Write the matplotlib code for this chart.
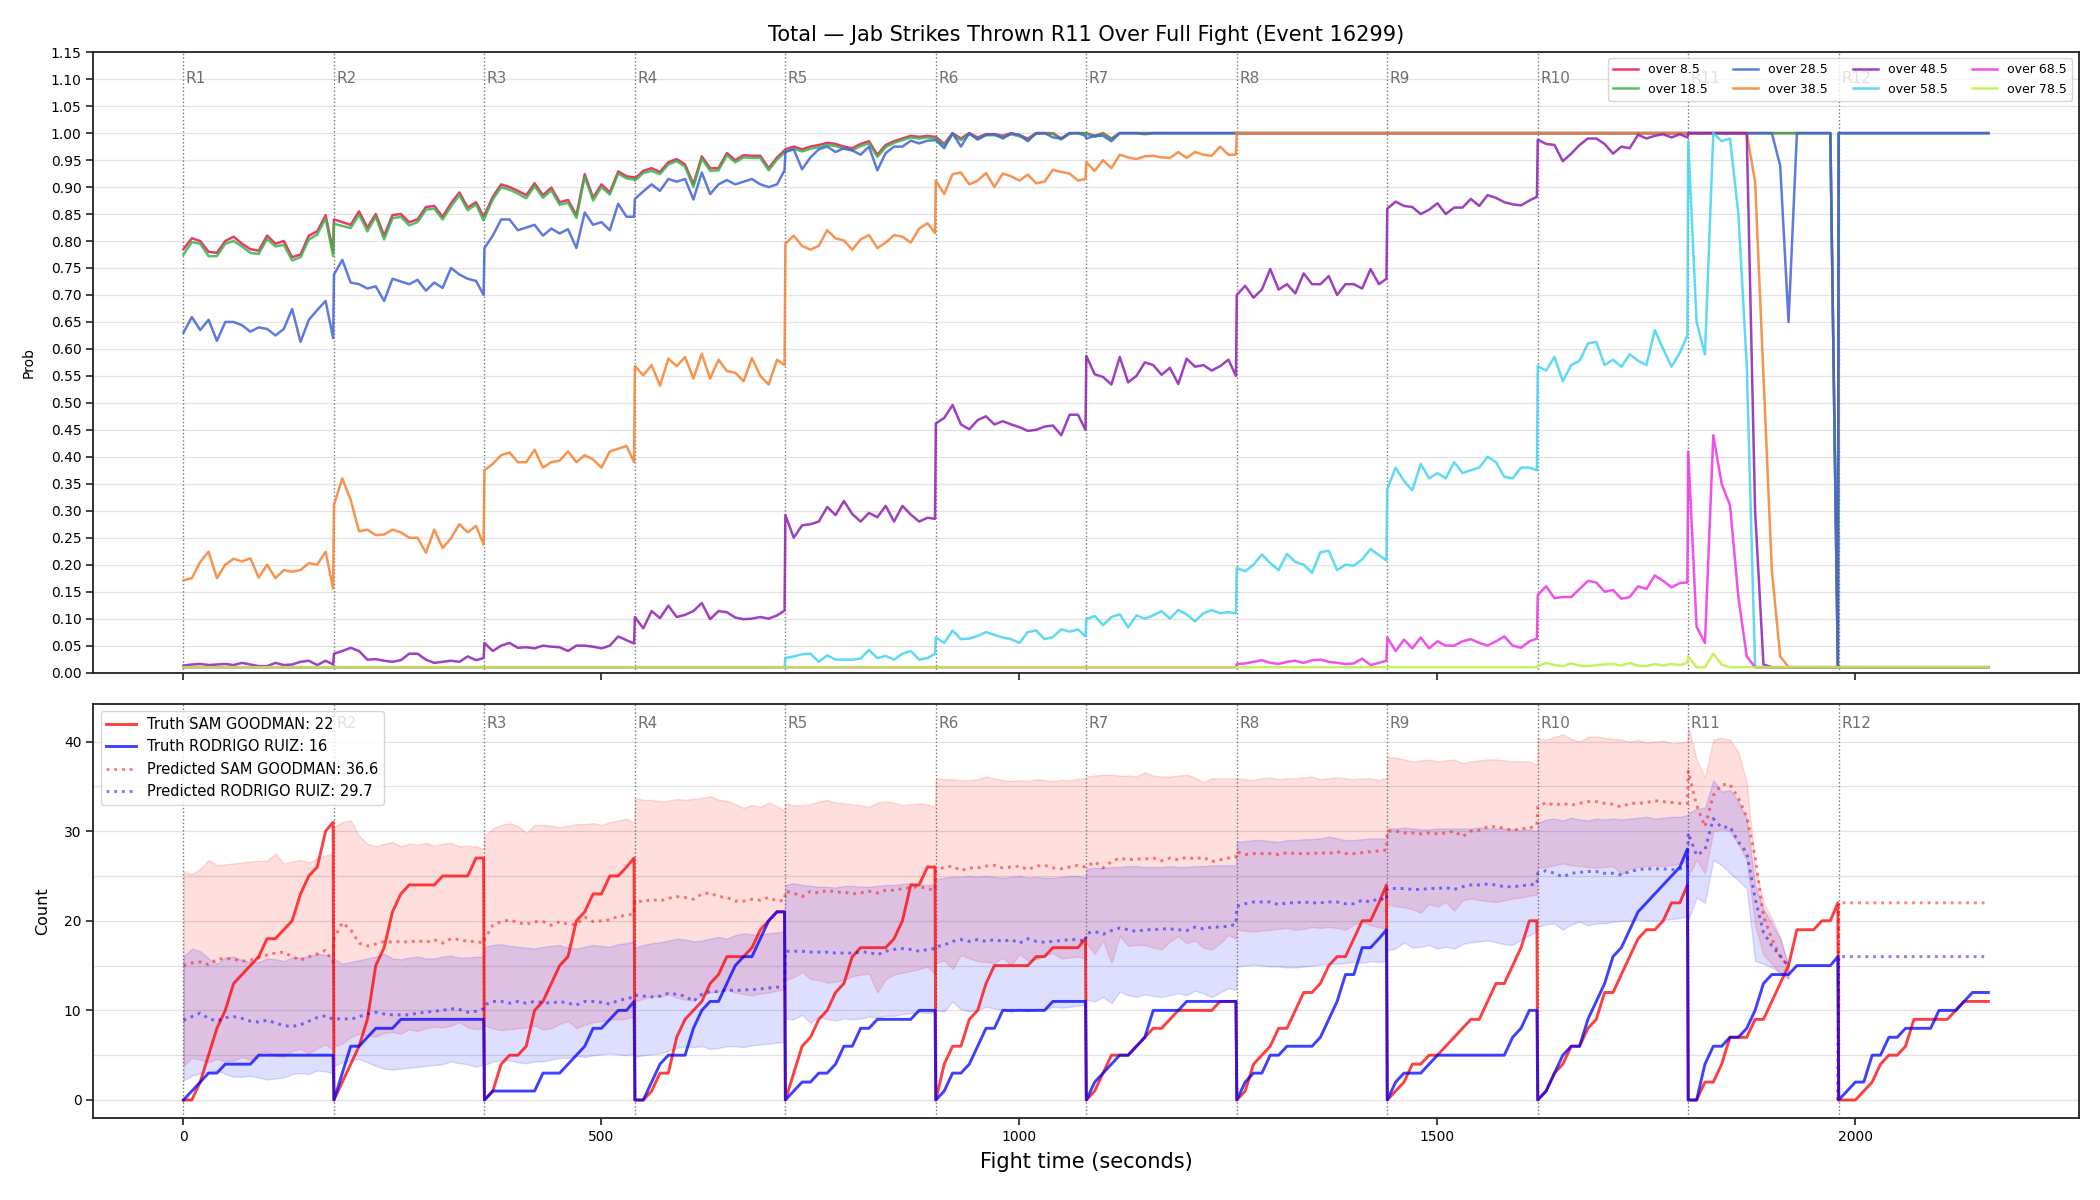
import numpy as np
import matplotlib
matplotlib.use("Agg")
import matplotlib.pyplot as plt
import matplotlib.transforms as mtransforms
from matplotlib.ticker import MultipleLocator, FormatStrFormatter

nan = float("nan")

# ---------------- data ----------------
ROUND_LEN = 180
N_ROUNDS = 12
SAMPLE_OFFSETS = [0, 10, 20, 30, 40, 50, 60, 70, 80, 90, 100, 110, 120, 130, 140, 150, 160, 170, 179]
TIME = np.concatenate([r * ROUND_LEN + np.array(SAMPLE_OFFSETS) for r in range(N_ROUNDS)])
ROUND_STARTS = [r * ROUND_LEN for r in range(N_ROUNDS)]
ROUND_LABELS = ["R%d" % (r + 1) for r in range(N_ROUNDS)]

TITLE = "Total \u2014 Jab Strikes Thrown R11 Over Full Fight (Event 16299)"
LINE_LABELS = ["over 8.5", "over 18.5", "over 28.5", "over 38.5",
               "over 48.5", "over 58.5", "over 68.5", "over 78.5"]

P085 = [
    0.785, 0.805, 0.80, 0.78, 0.778, 0.80, 0.808, 0.795, 0.785, 0.782, 0.81, 0.795, 0.80, 0.77, 0.775, 0.81, 0.818, 0.848, 0.78,
    0.84, 0.835, 0.83, 0.855, 0.825, 0.85, 0.81, 0.848, 0.85, 0.835, 0.84, 0.863, 0.865, 0.845, 0.87, 0.89, 0.862, 0.872, 0.845,
    0.848, 0.882, 0.905, 0.90, 0.893, 0.885, 0.907, 0.885, 0.899, 0.872, 0.876, 0.848, 0.924, 0.88, 0.905, 0.89, 0.929, 0.92, 0.918,
    0.916, 0.93, 0.935, 0.928, 0.946, 0.952, 0.942, 0.905, 0.957, 0.935, 0.935, 0.963, 0.95, 0.959, 0.958, 0.958, 0.935, 0.955, 0.968,
    0.97, 0.975, 0.97, 0.975, 0.978, 0.982, 0.98, 0.975, 0.972, 0.98, 0.985, 0.96, 0.978, 0.985, 0.99, 0.995, 0.993, 0.995, 0.993,
    0.993, 0.98, 1.0, 0.99, 1.0, 0.992, 0.998, 0.998, 0.995, 1.0, 0.996, 0.99, 1.0, 1.0, 1.0, 0.99, 1.0, 1.0, 1.0,
    1.0, 0.995, 1.0, 0.99, 1.0, 1.0, 1.0, 1.0, 1.0, 1.0, 1.0, 1.0, 1.0, 1.0, 1.0, 1.0, 1.0, 1.0, 1.0,
    1.0, 1.0, 1.0, 1.0, 1.0, 1.0, 1.0, 1.0, 1.0, 1.0, 1.0, 1.0, 1.0, 1.0, 1.0, 1.0, 1.0, 1.0, 1.0,
    1.0, 1.0, 1.0, 1.0, 1.0, 1.0, 1.0, 1.0, 1.0, 1.0, 1.0, 1.0, 1.0, 1.0, 1.0, 1.0, 1.0, 1.0, 1.0,
    1.0, 1.0, 1.0, 1.0, 1.0, 1.0, 1.0, 1.0, 1.0, 1.0, 1.0, 1.0, 1.0, 1.0, 1.0, 1.0, 1.0, 1.0, 1.0,
    1.0, 1.0, 1.0, 1.0, 1.0, 1.0, 1.0, 1.0, 1.0, 1.0, 1.0, 1.0, 1.0, 1.0, 1.0, 1.0, 1.0, 1.0, 0.01,
    1.0, 1.0, 1.0, 1.0, 1.0, 1.0, 1.0, 1.0, 1.0, 1.0, 1.0, 1.0, 1.0, 1.0, 1.0, 1.0, 1.0, 1.0, 1.0,
]

P185 = [
    0.775, 0.798, 0.795, 0.772, 0.772, 0.795, 0.80, 0.79, 0.778, 0.776, 0.804, 0.79, 0.793, 0.764, 0.77, 0.803, 0.812, 0.842, 0.772,
    0.832, 0.828, 0.824, 0.849, 0.818, 0.845, 0.803, 0.842, 0.845, 0.829, 0.835, 0.858, 0.86, 0.84, 0.864, 0.885, 0.857, 0.868, 0.838,
    0.842, 0.877, 0.90, 0.895, 0.888, 0.879, 0.902, 0.88, 0.894, 0.867, 0.871, 0.843, 0.919, 0.875, 0.90, 0.886, 0.925, 0.916, 0.914,
    0.912, 0.926, 0.93, 0.924, 0.942, 0.948, 0.938, 0.90, 0.953, 0.93, 0.931, 0.959, 0.946, 0.955, 0.954, 0.954, 0.931, 0.951, 0.964,
    0.966, 0.971, 0.966, 0.971, 0.974, 0.978, 0.976, 0.971, 0.968, 0.976, 0.981, 0.956, 0.974, 0.982, 0.987, 0.992, 0.99, 0.992, 0.99,
    0.99, 0.977, 0.998, 0.987, 0.998, 0.99, 0.996, 0.996, 0.993, 0.998, 0.994, 0.988, 0.999, 0.999, 0.999, 0.988, 0.999, 1.0, 1.0,
    0.999, 0.993, 0.999, 0.989, 1.0, 1.0, 1.0, 1.0, 1.0, 1.0, 1.0, 1.0, 1.0, 1.0, 1.0, 1.0, 1.0, 1.0, 1.0,
    1.0, 1.0, 1.0, 1.0, 1.0, 1.0, 1.0, 1.0, 1.0, 1.0, 1.0, 1.0, 1.0, 1.0, 1.0, 1.0, 1.0, 1.0, 1.0,
    1.0, 1.0, 1.0, 1.0, 1.0, 1.0, 1.0, 1.0, 1.0, 1.0, 1.0, 1.0, 1.0, 1.0, 1.0, 1.0, 1.0, 1.0, 1.0,
    1.0, 1.0, 1.0, 1.0, 1.0, 1.0, 1.0, 1.0, 1.0, 1.0, 1.0, 1.0, 1.0, 1.0, 1.0, 1.0, 1.0, 1.0, 1.0,
    1.0, 1.0, 1.0, 1.0, 1.0, 1.0, 1.0, 1.0, 1.0, 1.0, 1.0, 1.0, 1.0, 1.0, 1.0, 1.0, 1.0, 1.0, 0.01,
    1.0, 1.0, 1.0, 1.0, 1.0, 1.0, 1.0, 1.0, 1.0, 1.0, 1.0, 1.0, 1.0, 1.0, 1.0, 1.0, 1.0, 1.0, 1.0,
]

P285 = [
    0.63, 0.659, 0.635, 0.654, 0.615, 0.65, 0.65, 0.644, 0.632, 0.64, 0.637, 0.625, 0.637, 0.674, 0.613, 0.654, 0.672, 0.689, 0.62,
    0.738, 0.765, 0.723, 0.72, 0.712, 0.716, 0.689, 0.73, 0.725, 0.72, 0.728, 0.708, 0.723, 0.713, 0.75, 0.738, 0.73, 0.726, 0.70,
    0.787, 0.81, 0.84, 0.84, 0.82, 0.825, 0.83, 0.81, 0.823, 0.814, 0.822, 0.787, 0.853, 0.83, 0.835, 0.82, 0.869, 0.845, 0.845,
    0.878, 0.892, 0.905, 0.893, 0.915, 0.91, 0.915, 0.877, 0.927, 0.887, 0.905, 0.913, 0.905, 0.91, 0.915, 0.905, 0.90, 0.905, 0.931,
    0.965, 0.97, 0.933, 0.955, 0.97, 0.975, 0.965, 0.972, 0.968, 0.96, 0.975, 0.931, 0.963, 0.975, 0.975, 0.986, 0.981, 0.986, 0.987,
    0.987, 0.972, 1.0, 0.975, 1.0, 0.988, 0.997, 0.998, 0.99, 0.999, 0.997, 0.985, 1.0, 1.0, 0.992, 0.99, 1.0, 1.0, 0.995,
    0.99, 0.995, 0.995, 0.985, 1.0, 1.0, 1.0, 0.998, 1.0, 1.0, 1.0, 1.0, 1.0, 1.0, 1.0, 1.0, 1.0, 1.0, 1.0,
    1.0, 1.0, 1.0, 1.0, 1.0, 1.0, 1.0, 1.0, 1.0, 1.0, 1.0, 1.0, 1.0, 1.0, 1.0, 1.0, 1.0, 1.0, 1.0,
    1.0, 1.0, 1.0, 1.0, 1.0, 1.0, 1.0, 1.0, 1.0, 1.0, 1.0, 1.0, 1.0, 1.0, 1.0, 1.0, 1.0, 1.0, 1.0,
    1.0, 1.0, 1.0, 1.0, 1.0, 1.0, 1.0, 1.0, 1.0, 1.0, 1.0, 1.0, 1.0, 1.0, 1.0, 1.0, 1.0, 1.0, 1.0,
    1.0, 1.0, 1.0, 1.0, 1.0, 1.0, 1.0, 1.0, 1.0, 1.0, 1.0, 0.94, 0.65, 1.0, 1.0, 1.0, 1.0, 1.0, 0.01,
    1.0, 1.0, 1.0, 1.0, 1.0, 1.0, 1.0, 1.0, 1.0, 1.0, 1.0, 1.0, 1.0, 1.0, 1.0, 1.0, 1.0, 1.0, 1.0,
]

P385 = [
    0.171, 0.175, 0.205, 0.224, 0.175, 0.20, 0.211, 0.206, 0.212, 0.176, 0.20, 0.175, 0.19, 0.187, 0.19, 0.203, 0.20, 0.224, 0.156,
    0.311, 0.36, 0.32, 0.262, 0.265, 0.255, 0.256, 0.265, 0.26, 0.25, 0.25, 0.222, 0.265, 0.231, 0.249, 0.275, 0.26, 0.272, 0.237,
    0.375, 0.387, 0.403, 0.408, 0.39, 0.39, 0.413, 0.38, 0.39, 0.393, 0.41, 0.39, 0.403, 0.395, 0.38, 0.41, 0.415, 0.42, 0.39,
    0.568, 0.551, 0.57, 0.532, 0.582, 0.568, 0.585, 0.545, 0.591, 0.545, 0.58, 0.559, 0.556, 0.54, 0.583, 0.55, 0.534, 0.58, 0.57,
    0.795, 0.81, 0.791, 0.784, 0.791, 0.82, 0.805, 0.801, 0.784, 0.803, 0.811, 0.787, 0.797, 0.811, 0.808, 0.797, 0.823, 0.833, 0.815,
    0.912, 0.887, 0.924, 0.927, 0.905, 0.912, 0.926, 0.90, 0.925, 0.92, 0.912, 0.923, 0.907, 0.91, 0.932, 0.928, 0.925, 0.912, 0.915,
    0.946, 0.93, 0.95, 0.935, 0.96, 0.955, 0.952, 0.957, 0.958, 0.955, 0.954, 0.965, 0.954, 0.965, 0.96, 0.958, 0.975, 0.96, 0.96,
    1.0, 1.0, 1.0, 1.0, 1.0, 1.0, 1.0, 1.0, 1.0, 1.0, 1.0, 1.0, 1.0, 1.0, 1.0, 1.0, 1.0, 1.0, 1.0,
    1.0, 1.0, 1.0, 1.0, 1.0, 1.0, 1.0, 1.0, 1.0, 1.0, 1.0, 1.0, 1.0, 1.0, 1.0, 1.0, 1.0, 1.0, 1.0,
    1.0, 1.0, 1.0, 1.0, 1.0, 1.0, 1.0, 1.0, 1.0, 1.0, 1.0, 1.0, 1.0, 1.0, 1.0, 1.0, 1.0, 1.0, 1.0,
    1.0, 1.0, 1.0, 1.0, 1.0, 1.0, 1.0, 1.0, 0.91, 0.55, 0.19, 0.03, 0.01, 0.01, 0.01, 0.01, 0.01, 0.01, 0.01,
    0.01, 0.01, 0.01, 0.01, 0.01, 0.01, 0.01, 0.01, 0.01, 0.01, 0.01, 0.01, 0.01, 0.01, 0.01, 0.01, 0.01, 0.01, 0.01,
]

P485 = [
    0.013, 0.015, 0.016, 0.014, 0.015, 0.016, 0.014, 0.018, 0.015, 0.012, 0.012, 0.018, 0.014, 0.015, 0.02, 0.022, 0.014, 0.022, 0.015,
    0.035, 0.04, 0.046, 0.04, 0.024, 0.025, 0.022, 0.02, 0.023, 0.035, 0.035, 0.024, 0.018, 0.02, 0.022, 0.02, 0.03, 0.023, 0.027,
    0.055, 0.04, 0.05, 0.055, 0.046, 0.047, 0.045, 0.05, 0.048, 0.047, 0.04, 0.05, 0.05, 0.048, 0.045, 0.05, 0.067, 0.06, 0.054,
    0.103, 0.082, 0.114, 0.101, 0.124, 0.103, 0.107, 0.114, 0.129, 0.099, 0.114, 0.112, 0.102, 0.099, 0.10, 0.103, 0.10, 0.106, 0.115,
    0.292, 0.25, 0.273, 0.275, 0.28, 0.307, 0.292, 0.318, 0.294, 0.28, 0.296, 0.288, 0.309, 0.28, 0.309, 0.293, 0.28, 0.287, 0.285,
    0.462, 0.472, 0.496, 0.46, 0.451, 0.468, 0.475, 0.46, 0.466, 0.46, 0.455, 0.448, 0.45, 0.456, 0.458, 0.44, 0.478, 0.478, 0.45,
    0.587, 0.553, 0.548, 0.534, 0.585, 0.538, 0.55, 0.575, 0.57, 0.552, 0.565, 0.535, 0.582, 0.567, 0.57, 0.56, 0.568, 0.58, 0.55,
    0.70, 0.717, 0.695, 0.71, 0.748, 0.71, 0.72, 0.703, 0.74, 0.72, 0.72, 0.735, 0.70, 0.72, 0.72, 0.712, 0.748, 0.72, 0.73,
    0.86, 0.873, 0.865, 0.863, 0.85, 0.858, 0.87, 0.85, 0.862, 0.862, 0.878, 0.865, 0.885, 0.88, 0.872, 0.868, 0.866, 0.875, 0.882,
    0.988, 0.98, 0.978, 0.948, 0.962, 0.978, 0.99, 0.99, 0.98, 0.962, 0.975, 0.972, 0.997, 0.99, 0.995, 0.998, 0.992, 0.998, 0.992,
    1.0, 1.0, 1.0, 1.0, 1.0, 1.0, 1.0, 1.0, 0.3, 0.015, 0.01, 0.01, 0.01, 0.01, 0.01, 0.01, 0.01, 0.01, 0.01,
    0.01, 0.01, 0.01, 0.01, 0.01, 0.01, 0.01, 0.01, 0.01, 0.01, 0.01, 0.01, 0.01, 0.01, 0.01, 0.01, 0.01, 0.01, 0.01,
]

P585 = [
    0.01, 0.01, 0.01, 0.01, 0.01, 0.01, 0.01, 0.01, 0.01, 0.01, 0.01, 0.01, 0.01, 0.01, 0.01, 0.01, 0.01, 0.01, 0.01,
    0.01, 0.01, 0.01, 0.01, 0.01, 0.01, 0.01, 0.01, 0.01, 0.01, 0.01, 0.01, 0.01, 0.01, 0.01, 0.01, 0.01, 0.01, 0.01,
    0.01, 0.01, 0.01, 0.01, 0.01, 0.01, 0.01, 0.01, 0.01, 0.01, 0.01, 0.01, 0.01, 0.01, 0.01, 0.01, 0.01, 0.01, 0.01,
    0.01, 0.01, 0.01, 0.01, 0.01, 0.01, 0.01, 0.01, 0.01, 0.01, 0.01, 0.01, 0.01, 0.01, 0.01, 0.01, 0.01, 0.01, 0.01,
    0.027, 0.03, 0.034, 0.035, 0.02, 0.032, 0.024, 0.024, 0.024, 0.026, 0.042, 0.027, 0.031, 0.024, 0.035, 0.04, 0.024, 0.027, 0.035,
    0.065, 0.055, 0.078, 0.062, 0.063, 0.068, 0.075, 0.07, 0.065, 0.062, 0.055, 0.075, 0.078, 0.062, 0.066, 0.08, 0.076, 0.08, 0.067,
    0.099, 0.105, 0.088, 0.103, 0.108, 0.084, 0.106, 0.10, 0.106, 0.114, 0.10, 0.116, 0.108, 0.095, 0.11, 0.116, 0.11, 0.112, 0.11,
    0.194, 0.188, 0.20, 0.219, 0.203, 0.19, 0.22, 0.205, 0.20, 0.185, 0.223, 0.226, 0.19, 0.20, 0.198, 0.21, 0.229, 0.218, 0.208,
    0.34, 0.38, 0.355, 0.338, 0.387, 0.36, 0.37, 0.36, 0.39, 0.37, 0.375, 0.38, 0.40, 0.39, 0.363, 0.36, 0.38, 0.38, 0.375,
    0.568, 0.56, 0.585, 0.54, 0.57, 0.578, 0.61, 0.613, 0.57, 0.58, 0.567, 0.59, 0.578, 0.57, 0.635, 0.60, 0.567, 0.593, 0.625,
    0.985, 0.65, 0.59, 1.0, 0.985, 0.99, 0.85, 0.57, 0.01, 0.01, 0.01, 0.01, 0.01, 0.01, 0.01, 0.01, 0.01, 0.01, 0.01,
    0.01, 0.01, 0.01, 0.01, 0.01, 0.01, 0.01, 0.01, 0.01, 0.01, 0.01, 0.01, 0.01, 0.01, 0.01, 0.01, 0.01, 0.01, 0.01,
]

P685 = [
    0.01, 0.01, 0.01, 0.01, 0.01, 0.01, 0.01, 0.01, 0.01, 0.01, 0.01, 0.01, 0.01, 0.01, 0.01, 0.01, 0.01, 0.01, 0.01,
    0.01, 0.01, 0.01, 0.01, 0.01, 0.01, 0.01, 0.01, 0.01, 0.01, 0.01, 0.01, 0.01, 0.01, 0.01, 0.01, 0.01, 0.01, 0.01,
    0.01, 0.01, 0.01, 0.01, 0.01, 0.01, 0.01, 0.01, 0.01, 0.01, 0.01, 0.01, 0.01, 0.01, 0.01, 0.01, 0.01, 0.01, 0.01,
    0.01, 0.01, 0.01, 0.01, 0.01, 0.01, 0.01, 0.01, 0.01, 0.01, 0.01, 0.01, 0.01, 0.01, 0.01, 0.01, 0.01, 0.01, 0.01,
    0.01, 0.01, 0.01, 0.01, 0.01, 0.01, 0.01, 0.01, 0.01, 0.01, 0.01, 0.01, 0.01, 0.01, 0.01, 0.01, 0.01, 0.01, 0.01,
    0.01, 0.01, 0.01, 0.01, 0.01, 0.01, 0.01, 0.01, 0.01, 0.01, 0.01, 0.01, 0.01, 0.01, 0.01, 0.01, 0.01, 0.01, 0.01,
    0.01, 0.01, 0.01, 0.01, 0.01, 0.01, 0.01, 0.01, 0.01, 0.01, 0.01, 0.01, 0.01, 0.01, 0.01, 0.01, 0.01, 0.01, 0.01,
    0.016, 0.017, 0.02, 0.023, 0.018, 0.016, 0.02, 0.022, 0.018, 0.023, 0.024, 0.02, 0.018, 0.016, 0.017, 0.026, 0.014, 0.018, 0.022,
    0.065, 0.04, 0.061, 0.045, 0.065, 0.045, 0.058, 0.05, 0.05, 0.058, 0.062, 0.055, 0.05, 0.058, 0.067, 0.05, 0.046, 0.058, 0.063,
    0.144, 0.16, 0.138, 0.14, 0.14, 0.155, 0.17, 0.167, 0.15, 0.153, 0.137, 0.14, 0.16, 0.155, 0.18, 0.17, 0.158, 0.166, 0.167,
    0.41, 0.085, 0.055, 0.44, 0.35, 0.31, 0.14, 0.03, 0.01, 0.01, 0.01, 0.01, 0.01, 0.01, 0.01, 0.01, 0.01, 0.01, 0.01,
    0.01, 0.01, 0.01, 0.01, 0.01, 0.01, 0.01, 0.01, 0.01, 0.01, 0.01, 0.01, 0.01, 0.01, 0.01, 0.01, 0.01, 0.01, 0.01,
]

P785 = [
    0.01, 0.01, 0.01, 0.01, 0.01, 0.01, 0.01, 0.01, 0.01, 0.01, 0.01, 0.01, 0.01, 0.01, 0.01, 0.01, 0.01, 0.01, 0.01,
    0.01, 0.01, 0.01, 0.01, 0.01, 0.01, 0.01, 0.01, 0.01, 0.01, 0.01, 0.01, 0.01, 0.01, 0.01, 0.01, 0.01, 0.01, 0.01,
    0.01, 0.01, 0.01, 0.01, 0.01, 0.01, 0.01, 0.01, 0.01, 0.01, 0.01, 0.01, 0.01, 0.01, 0.01, 0.01, 0.01, 0.01, 0.01,
    0.01, 0.01, 0.01, 0.01, 0.01, 0.01, 0.01, 0.01, 0.01, 0.01, 0.01, 0.01, 0.01, 0.01, 0.01, 0.01, 0.01, 0.01, 0.01,
    0.01, 0.01, 0.01, 0.01, 0.01, 0.01, 0.01, 0.01, 0.01, 0.01, 0.01, 0.01, 0.01, 0.01, 0.01, 0.01, 0.01, 0.01, 0.01,
    0.01, 0.01, 0.01, 0.01, 0.01, 0.01, 0.01, 0.01, 0.01, 0.01, 0.01, 0.01, 0.01, 0.01, 0.01, 0.01, 0.01, 0.01, 0.01,
    0.01, 0.01, 0.01, 0.01, 0.01, 0.01, 0.01, 0.01, 0.01, 0.01, 0.01, 0.01, 0.01, 0.01, 0.01, 0.01, 0.01, 0.01, 0.01,
    0.01, 0.01, 0.01, 0.01, 0.01, 0.01, 0.01, 0.01, 0.01, 0.01, 0.01, 0.01, 0.01, 0.01, 0.01, 0.01, 0.01, 0.01, 0.01,
    0.01, 0.01, 0.01, 0.01, 0.01, 0.01, 0.01, 0.01, 0.01, 0.01, 0.01, 0.01, 0.01, 0.01, 0.01, 0.01, 0.01, 0.01, 0.01,
    0.012, 0.018, 0.014, 0.012, 0.017, 0.013, 0.012, 0.014, 0.015, 0.016, 0.013, 0.018, 0.013, 0.012, 0.016, 0.013, 0.016, 0.014, 0.018,
    0.03, 0.01, 0.01, 0.035, 0.015, 0.01, 0.01, 0.01, 0.01, 0.01, 0.01, 0.01, 0.01, 0.01, 0.01, 0.01, 0.01, 0.01, 0.01,
    0.01, 0.01, 0.01, 0.01, 0.01, 0.01, 0.01, 0.01, 0.01, 0.01, 0.01, 0.01, 0.01, 0.01, 0.01, 0.01, 0.01, 0.01, 0.01,
]

FIGHTER_A = "SAM GOODMAN"
FIGHTER_B = "RODRIGO RUIZ"
TRUTH_TOTAL_A = 22
TRUTH_TOTAL_B = 16
PRED_TOTAL_A = 36.6
PRED_TOTAL_B = 29.7

TRUTH_A = [
    0, 0, 2, 5, 8, 10, 13, 14, 15, 16, 18, 18, 19, 20, 23, 25, 26, 30, 31,
    0, 2, 4, 6, 9, 15, 17, 21, 23, 24, 24, 24, 24, 25, 25, 25, 25, 27, 27,
    0, 1, 4, 5, 5, 6, 10, 11, 13, 15, 16, 20, 21, 23, 23, 25, 25, 26, 27,
    0, 0, 1, 3, 3, 7, 9, 10, 11, 13, 14, 16, 16, 16, 17, 19, 20, 21, 21,
    0, 3, 6, 7, 9, 10, 12, 13, 16, 17, 17, 17, 17, 18, 20, 24, 24, 26, 26,
    0, 4, 6, 6, 9, 10, 13, 15, 15, 15, 15, 15, 16, 16, 17, 17, 17, 17, 18,
    0, 1, 3, 5, 5, 5, 6, 7, 8, 8, 9, 10, 10, 10, 10, 10, 11, 11, 11,
    0, 1, 4, 5, 6, 8, 8, 10, 12, 12, 13, 15, 16, 16, 18, 20, 20, 22, 24,
    0, 1, 2, 4, 4, 5, 5, 6, 7, 8, 9, 9, 11, 13, 13, 15, 17, 20, 20,
    0, 1, 3, 4, 6, 6, 8, 9, 12, 12, 14, 16, 18, 19, 19, 20, 22, 22, 24,
    0, 0, 2, 2, 4, 7, 7, 7, 9, 9, 11, 13, 15, 19, 19, 19, 20, 20, 22,
    0, 0, 0, 1, 2, 4, 5, 5, 6, 9, 9, 9, 9, 9, 10, 11, 11, 11, 11,
]

TRUTH_B = [
    0, 1, 2, 3, 3, 4, 4, 4, 4, 5, 5, 5, 5, 5, 5, 5, 5, 5, 5,
    0, 3, 6, 6, 7, 8, 8, 8, 9, 9, 9, 9, 9, 9, 9, 9, 9, 9, 9,
    0, 1, 1, 1, 1, 1, 1, 3, 3, 3, 4, 5, 6, 8, 8, 9, 10, 10, 11,
    0, 0, 2, 4, 5, 5, 5, 8, 10, 11, 11, 13, 15, 16, 16, 18, 20, 21, 21,
    0, 1, 2, 2, 3, 3, 4, 6, 6, 8, 8, 9, 9, 9, 9, 9, 10, 10, 10,
    0, 1, 3, 3, 4, 6, 8, 8, 10, 10, 10, 10, 10, 10, 11, 11, 11, 11, 11,
    0, 2, 3, 4, 5, 5, 6, 7, 10, 10, 10, 10, 11, 11, 11, 11, 11, 11, 11,
    0, 2, 3, 3, 5, 5, 6, 6, 6, 6, 7, 9, 11, 14, 14, 17, 17, 18, 19,
    0, 2, 3, 3, 3, 4, 5, 5, 5, 5, 5, 5, 5, 5, 5, 7, 8, 10, 10,
    0, 1, 3, 5, 6, 6, 9, 11, 13, 16, 17, 19, 21, 22, 23, 24, 25, 26, 28,
    0, 0, 4, 6, 6, 7, 7, 8, 10, 13, 14, 14, 14, 15, 15, 15, 15, 15, 16,
    0, 1, 2, 2, 5, 5, 7, 7, 8, 8, 8, 8, 10, 10, 10, 11, 12, 12, 12,
]

PRED_A = [
    15.0, 15.3, 15.4, 15.1, 15.7, 15.8, 15.7, 15.5, 15.6, 15.9, 16.2, 16.4, 16.5, 16.0, 15.6, 16.0, 16.3, 16.7, 15.4,
    18.0, 19.8, 19.0, 17.5, 17.2, 17.4, 17.7, 17.6, 17.7, 17.6, 17.8, 17.6, 17.9, 17.5, 18.0, 17.9, 17.7, 17.7, 17.5,
    17.9, 19.5, 19.9, 20.1, 19.8, 19.6, 19.9, 19.9, 19.5, 19.9, 19.6, 19.6, 20.4, 19.9, 20.0, 20.1, 20.5, 20.6, 20.8,
    22.3, 22.1, 22.4, 22.2, 22.5, 22.7, 22.6, 22.4, 23.0, 23.1, 22.7, 22.6, 22.2, 22.2, 22.4, 22.3, 22.6, 22.2, 22.3,
    23.3, 23.1, 22.7, 23.3, 23.1, 23.4, 23.2, 23.2, 23.0, 23.1, 23.3, 23.1, 23.4, 23.4, 23.6, 23.7, 23.8, 23.6, 23.4,
    25.5, 26.0, 26.1, 25.6, 25.9, 25.9, 26.1, 26.2, 25.9, 26.0, 26.1, 25.7, 26.1, 26.2, 25.9, 25.8, 26.0, 26.2, 26.0,
    26.0, 26.6, 25.9, 26.6, 27.0, 26.8, 26.9, 26.9, 27.0, 26.7, 27.0, 26.8, 27.1, 26.9, 27.1, 26.6, 26.8, 27.0, 27.1,
    27.7, 27.4, 27.5, 27.5, 27.5, 27.4, 27.6, 27.5, 27.5, 27.5, 27.6, 27.5, 27.7, 27.5, 27.5, 27.6, 27.7, 27.8, 27.9,
    30.0, 30.0, 29.8, 29.8, 29.7, 29.8, 29.7, 29.8, 30.0, 29.4, 30.0, 30.1, 30.5, 30.5, 30.3, 30.1, 30.3, 30.3, 30.7,
    32.7, 33.2, 32.9, 33.1, 32.9, 33.1, 33.3, 33.3, 33.1, 33.0, 32.7, 33.1, 33.1, 33.2, 33.4, 33.3, 33.2, 33.1, 33.1,
    36.7, 32.9, 30.5, 34.0, 35.2, 35.2, 33.7, 31.6, 27.2, 20.5, 18.0, 16.0, 14.9, nan, nan, nan, nan, nan, 0.0,
    22.0, 22.0, 22.0, 22.0, 22.0, 22.0, 22.0, 22.0, 22.0, 22.0, 22.0, 22.0, 22.0, 22.0, 22.0, 22.0, 22.0, 22.0, 22.0,
]

PRED_B = [
    8.9, 9.3, 9.7, 9.1, 8.8, 9.2, 9.3, 9.1, 8.8, 8.7, 8.9, 8.6, 8.3, 8.2, 8.4, 8.8, 9.2, 9.4, 9.0,
    9.0, 9.1, 9.0, 9.3, 9.6, 9.8, 9.6, 9.5, 9.5, 9.5, 9.7, 9.8, 9.9, 10.0, 10.2, 10.1, 9.8, 9.9, 10.2,
    10.6, 11.0, 11.0, 10.8, 11.0, 10.8, 11.0, 10.9, 10.8, 11.0, 10.8, 10.6, 11.0, 11.0, 10.9, 10.7, 11.1, 11.3, 11.5,
    11.7, 11.6, 11.5, 11.6, 11.9, 11.8, 11.6, 11.0, 11.8, 12.1, 12.1, 12.3, 12.2, 12.3, 12.3, 12.4, 12.5, 12.6, 12.5,
    16.6, 16.6, 16.6, 16.5, 16.5, 16.5, 16.4, 16.4, 16.4, 16.5, 16.5, 16.2, 16.6, 16.8, 16.9, 16.8, 16.6, 16.8, 16.9,
    17.1, 17.3, 17.7, 17.9, 17.7, 17.9, 17.7, 17.9, 17.7, 17.9, 17.5, 18.0, 17.7, 17.6, 17.7, 17.8, 17.9, 17.9, 17.7,
    18.6, 18.8, 18.5, 18.9, 19.2, 19.0, 18.8, 19.0, 19.0, 19.1, 19.1, 19.0, 18.9, 19.3, 19.1, 19.3, 19.3, 19.4, 19.6,
    21.6, 21.9, 22.1, 22.1, 22.1, 21.8, 22.0, 22.0, 22.1, 22.0, 22.0, 22.1, 22.1, 21.9, 21.9, 22.3, 22.1, 22.5, 22.3,
    23.6, 23.6, 23.6, 23.5, 23.5, 23.6, 23.6, 23.7, 23.5, 23.8, 24.0, 24.0, 24.1, 24.0, 23.8, 23.8, 23.9, 24.0, 24.1,
    25.3, 25.6, 25.3, 24.9, 25.3, 25.4, 25.5, 25.5, 25.3, 25.3, 25.1, 25.5, 25.7, 25.8, 25.8, 25.8, 25.7, 25.8, 26.0,
    29.8, 27.3, 27.9, 31.4, 30.4, 30.5, 28.8, 27.6, 22.5, 18.7, 17.2, 16.1, 14.9, nan, nan, nan, nan, nan, 0.0,
    16.0, 16.0, 16.0, 16.0, 16.0, 16.0, 16.0, 16.0, 16.0, 16.0, 16.0, 16.0, 16.0, 16.0, 16.0, 16.0, 16.0, 16.0, 16.0,
]

HI_A = [
    25.5, 25.2, 25.8, 26.8, 26.2, 26.3, 26.4, 26.5, 26.6, 26.7, 26.7, 27.5, 26.4, 26.6, 26.8, 26.5, 27.0, 27.3, 27.5,
    30.5, 31.0, 31.2, 29.5, 28.6, 28.3, 28.6, 28.8, 28.3, 28.6, 28.5, 28.7, 28.4, 28.6, 28.7, 28.3, 28.4, 28.3, 28.0,
    29.4, 30.3, 30.7, 30.9, 30.6, 29.8, 30.7, 30.7, 30.6, 30.5, 30.6, 30.8, 30.8, 30.9, 30.7, 31.0, 31.2, 31.4, 31.0,
    33.7, 33.5, 33.5, 33.3, 33.4, 33.6, 33.5, 33.6, 33.7, 33.9, 33.5, 33.4, 33.0, 32.6, 32.9, 32.7, 33.2, 32.8, 32.3,
    33.1, 32.9, 32.9, 33.0, 33.3, 33.5, 33.2, 33.1, 33.0, 32.9, 32.7, 33.2, 33.3, 33.2, 32.9, 33.0, 33.1, 33.0, 32.7,
    35.9, 35.8, 35.8, 35.7, 35.7, 35.8, 36.1, 35.9, 35.7, 35.6, 35.7, 35.6, 35.8, 35.7, 35.6, 35.7, 35.7, 35.8, 36.0,
    36.1, 36.2, 36.3, 36.3, 36.2, 36.2, 36.1, 36.6, 36.2, 36.1, 36.1, 36.2, 36.3, 36.0, 35.5, 35.9, 35.9, 35.9, 35.9,
    35.9, 35.8, 35.7, 35.9, 36.0, 35.8, 35.9, 35.9, 36.0, 36.1, 35.8, 35.9, 36.0, 35.9, 35.8, 35.9, 35.9, 35.7, 36.0,
    38.3, 38.2, 38.0, 37.8, 37.9, 38.0, 37.8, 37.9, 38.0, 37.6, 37.8, 37.9, 38.0, 38.0, 37.9, 37.8, 37.8, 37.8, 37.4,
    40.4, 40.2, 40.5, 40.8, 40.3, 40.0, 40.5, 40.6, 40.4, 40.3, 40.2, 40.0, 40.2, 39.9, 40.0, 40.1, 39.8, 39.9, 40.0,
    41.7, 38.0, 36.0, 40.2, 40.4, 40.2, 38.8, 35.5, 26.0, 22.0, 20.3, 18.2, 15.0, nan, nan, nan, nan, nan, nan,
    nan, nan, nan, nan, nan, nan, nan, nan, nan, nan, nan, nan, nan, nan, nan, nan, nan, nan, nan,
]

LO_A = [
    3.8, 4.7, 4.5, 4.2, 4.6, 4.3, 4.4, 4.8, 4.5, 5.2, 5.4, 5.0, 4.8, 5.5, 5.7, 5.2, 5.8, 6.2, 5.6,
    6.0, 6.3, 7.0, 7.4, 7.2, 7.1, 7.5, 7.6, 7.4, 7.9, 7.7, 8.0, 8.2, 8.1, 8.3, 8.7, 8.1, 7.9, 8.0,
    8.3, 8.0, 7.8, 7.9, 8.0, 8.1, 8.3, 7.9, 8.0, 8.5, 8.8, 8.0, 8.4, 8.7, 8.8, 9.0, 9.0, 9.1, 9.4,
    11.0, 11.3, 11.6, 11.5, 11.8, 11.4, 11.2, 11.1, 11.7, 12.0, 12.1, 12.3, 12.0, 11.8, 11.7, 11.9, 12.0, 12.2, 12.3,
    13.4, 13.7, 14.3, 13.5, 13.4, 13.1, 13.2, 13.4, 13.8, 14.0, 14.1, 12.0, 13.5, 14.0, 14.2, 14.4, 14.6, 14.9, 14.1,
    15.3, 15.6, 14.6, 16.2, 15.8, 15.5, 15.4, 15.3, 15.9, 15.0, 16.3, 15.6, 15.7, 16.1, 16.4, 15.8, 15.9, 16.0, 15.8,
    17.5, 16.3, 17.8, 15.3, 18.3, 17.2, 17.3, 17.3, 17.0, 16.8, 17.7, 18.3, 17.5, 17.8, 17.0, 16.8, 17.5, 18.4, 18.0,
    19.0, 18.9, 18.8, 18.9, 19.0, 19.1, 19.2, 19.0, 19.1, 19.3, 19.2, 19.3, 19.2, 19.0, 19.6, 19.9, 19.5, 19.3, 19.1,
    21.8, 21.6, 21.5, 21.3, 20.9, 21.9, 21.6, 22.1, 21.1, 22.3, 22.5, 22.3, 22.2, 22.1, 22.3, 22.5, 22.6, 22.8, 22.9,
    25.9, 26.0, 26.2, 26.4, 26.2, 26.1, 26.0, 25.9, 26.0, 26.1, 25.2, 25.8, 26.0, 26.1, 26.2, 26.1, 26.2, 26.4, 26.6,
    25.0, 26.8, 25.3, 30.0, 30.2, 30.0, 28.5, 26.8, 19.5, 16.2, 15.2, 14.2, 13.5, nan, nan, nan, nan, nan, nan,
    nan, nan, nan, nan, nan, nan, nan, nan, nan, nan, nan, nan, nan, nan, nan, nan, nan, nan, nan,
]

HI_B = [
    16.0, 16.9, 16.6, 15.8, 15.2, 15.9, 16.0, 15.6, 15.4, 15.4, 15.8, 15.7, 15.5, 15.9, 15.9, 16.0, 16.3, 16.2, 15.9,
    15.8, 15.2, 15.4, 15.6, 15.8, 16.0, 16.3, 15.8, 15.7, 15.9, 16.0, 15.8, 15.8, 16.0, 16.1, 15.9, 15.9, 16.0, 16.0,
    17.1, 17.3, 17.4, 17.2, 17.1, 17.0, 16.9, 17.1, 17.2, 17.3, 17.0, 16.9, 17.1, 17.3, 17.2, 17.1, 17.4, 17.5, 17.7,
    17.0, 17.3, 17.5, 17.6, 17.8, 18.0, 17.9, 17.7, 17.8, 18.0, 18.2, 18.0, 18.4, 18.6, 18.5, 18.5, 18.6, 18.7, 18.8,
    24.0, 24.2, 24.0, 23.9, 23.8, 23.8, 23.7, 23.9, 23.9, 23.8, 23.8, 23.9, 24.0, 24.0, 24.1, 24.2, 24.0, 24.0, 24.1,
    24.6, 24.8, 24.9, 24.9, 25.0, 24.9, 25.0, 24.9, 24.8, 24.9, 25.0, 24.8, 24.9, 24.8, 24.8, 24.9, 25.0, 25.0, 24.8,
    25.8, 25.9, 25.9, 26.0, 26.0, 26.1, 26.1, 26.0, 26.0, 26.0, 26.1, 26.0, 26.0, 26.1, 26.1, 26.2, 26.2, 26.2, 26.2,
    28.8, 28.9, 29.0, 29.0, 28.9, 28.8, 29.0, 29.0, 29.1, 29.1, 29.2, 29.4, 29.2, 29.0, 29.0, 29.1, 29.2, 29.2, 29.1,
    30.3, 30.3, 30.4, 30.3, 30.2, 30.2, 30.3, 30.3, 30.3, 30.3, 30.3, 30.4, 30.3, 30.3, 30.3, 30.2, 30.1, 30.2, 30.0,
    30.9, 31.3, 31.4, 31.2, 31.5, 31.3, 31.2, 31.4, 31.3, 31.4, 31.3, 31.4, 31.5, 31.6, 31.4, 31.5, 31.6, 31.6, 31.8,
    32.0, 32.5, 32.6, 35.7, 34.4, 34.6, 33.3, 31.3, 24.0, 21.3, 19.7, 18.0, 15.0, nan, nan, nan, nan, nan, nan,
    nan, nan, nan, nan, nan, nan, nan, nan, nan, nan, nan, nan, nan, nan, nan, nan, nan, nan, nan,
]

LO_B = [
    2.2, 2.7, 3.0, 3.1, 3.3, 2.9, 2.6, 2.6, 2.7, 2.5, 2.3, 2.4, 2.5, 2.9, 3.0, 2.9, 3.3, 3.2, 3.0,
    3.8, 4.2, 4.4, 4.6, 4.2, 3.8, 3.5, 3.4, 3.5, 3.6, 3.7, 3.8, 3.9, 4.0, 4.3, 4.1, 4.0, 3.7, 4.0,
    3.9, 4.3, 4.4, 4.4, 4.2, 4.1, 4.3, 4.3, 4.5, 4.7, 4.7, 4.9, 4.8, 5.0, 5.1, 5.2, 5.1, 5.0, 5.2,
    4.8, 5.0, 5.1, 5.2, 5.5, 5.8, 6.0, 5.9, 6.0, 5.7, 5.8, 6.0, 6.0, 5.9, 6.1, 6.2, 6.3, 6.4, 6.5,
    9.1, 9.0, 9.5, 8.6, 9.3, 9.0, 8.9, 9.1, 9.0, 9.1, 9.3, 9.2, 9.4, 9.4, 9.6, 9.7, 9.8, 9.7, 9.8,
    10.0, 9.9, 11.0, 10.1, 9.9, 10.0, 10.4, 10.2, 10.1, 9.8, 10.2, 9.9, 10.2, 10.1, 10.4, 10.3, 10.4, 10.5, 10.6,
    11.2, 11.0, 11.5, 10.8, 12.1, 11.7, 11.5, 11.8, 11.6, 11.5, 11.7, 11.9, 11.7, 12.2, 11.9, 11.5, 12.0, 12.5, 12.3,
    14.9, 15.0, 15.1, 15.0, 14.9, 14.9, 14.8, 14.8, 14.9, 15.0, 15.1, 15.2, 15.2, 15.3, 15.4, 15.3, 15.5, 15.4, 15.5,
    16.7, 16.9, 17.6, 17.0, 17.1, 17.3, 16.9, 17.1, 16.9, 17.4, 17.6, 17.7, 17.8, 17.6, 17.4, 17.3, 17.9, 18.4, 18.8,
    19.3, 19.6, 19.7, 19.0, 19.6, 19.9, 19.5, 19.7, 19.7, 19.9, 20.0, 20.0, 20.1, 20.0, 20.0, 20.1, 20.2, 20.3, 20.5,
    20.1, 22.6, 22.0, 26.8, 26.2, 25.3, 24.5, 23.6, 15.5, 15.2, 14.8, 14.2, 13.6, nan, nan, nan, nan, nan, nan,
    nan, nan, nan, nan, nan, nan, nan, nan, nan, nan, nan, nan, nan, nan, nan, nan, nan, nan, nan,
]

# ---------------- style ----------------
LINE_COLORS = ["#e6194b", "#3cb44b", "#4363d8", "#f58231",
               "#911eb4", "#42d4f4", "#f032e6", "#bfef45"]
PROB_SERIES = [P085, P185, P285, P385, P485, P585, P685, P785]

for s in PROB_SERIES + [TRUTH_A, TRUTH_B, PRED_A, PRED_B, HI_A, LO_A, HI_B, LO_B]:
    assert len(s) == len(TIME), len(s)

plt.rcParams["font.family"] = ["DejaVu Sans"]
SPINE_C = "#222222"

fig = plt.figure(figsize=(21, 12), dpi=100)
ax1 = fig.add_axes([0.0444, 0.4395, 0.9454, 0.517])
ax2 = fig.add_axes([0.0444, 0.0681, 0.9454, 0.3453], sharex=ax1)

# ----- top: probabilities -----
for lab, ser, col in zip(LINE_LABELS, PROB_SERIES, LINE_COLORS):
    ax1.plot(TIME, ser, color=col, lw=1.8, alpha=0.85, label=lab)

ax1.set_ylim(0, 1.15)
ax1.yaxis.set_major_locator(MultipleLocator(0.05))
ax1.yaxis.set_major_formatter(FormatStrFormatter("%.2f"))
ax1.grid(axis="y", color="#e2e2e2", lw=0.9)
ax1.set_axisbelow(True)
ax1.set_ylabel("Prob", fontsize=10, labelpad=11)
ax1.set_title(TITLE, fontsize=15, pad=8)
ax1.tick_params(labelbottom=False)
ax1.legend(loc="upper right", ncol=4, fontsize=9, framealpha=0.8)

# ----- bottom: counts -----
ax2.fill_between(TIME, LO_A, HI_A, color="red", alpha=0.13, lw=1)
ax2.fill_between(TIME, LO_B, HI_B, color="blue", alpha=0.13, lw=1)
ax2.plot(TIME, TRUTH_A, color="red", lw=2.1, alpha=0.75,
         label="Truth %s: %d" % (FIGHTER_A, TRUTH_TOTAL_A))
ax2.plot(TIME, TRUTH_B, color="blue", lw=2.1, alpha=0.75,
         label="Truth %s: %d" % (FIGHTER_B, TRUTH_TOTAL_B))
ax2.plot(TIME, PRED_A, color="red", lw=2.1, ls=":", alpha=0.5,
         label="Predicted %s: %.1f" % (FIGHTER_A, PRED_TOTAL_A))
ax2.plot(TIME, PRED_B, color="blue", lw=2.1, ls=":", alpha=0.5,
         label="Predicted %s: %.1f" % (FIGHTER_B, PRED_TOTAL_B))

ax2.set_ylim(-2.04, 44.2)
ax2.yaxis.set_major_locator(MultipleLocator(10))
ax2.yaxis.set_minor_locator(MultipleLocator(5))
ax2.grid(axis="y", which="both", color="#e2e2e2", lw=0.9)
ax2.set_axisbelow(True)
ax2.set_ylabel("Count", fontsize=11.5, labelpad=10)
ax2.set_xlabel("Fight time (seconds)", fontsize=15, labelpad=6)
ax2.xaxis.set_major_locator(MultipleLocator(500))
ax2.legend(loc="upper left", fontsize=10.5, framealpha=0.8)

# ----- round markers -----
for ax in (ax1, ax2):
    trans = mtransforms.blended_transform_factory(ax.transData, ax.transAxes)
    for start, lab in zip(ROUND_STARTS, ROUND_LABELS):
        ax.axvline(start, color="#555555", ls=":", lw=1.0, alpha=0.8, zorder=1)
        ax.text(start + 3, 0.97, lab, transform=trans, ha="left", va="top",
                fontsize=11, color="#707070", zorder=1)
    for sp in ax.spines.values():
        sp.set_color(SPINE_C)
        sp.set_linewidth(1.3)
    ax.tick_params(which="major", length=5, width=1.2, color=SPINE_C, labelsize=10)
    ax.tick_params(which="minor", length=0)

fig.savefig("out.png", dpi=100)
